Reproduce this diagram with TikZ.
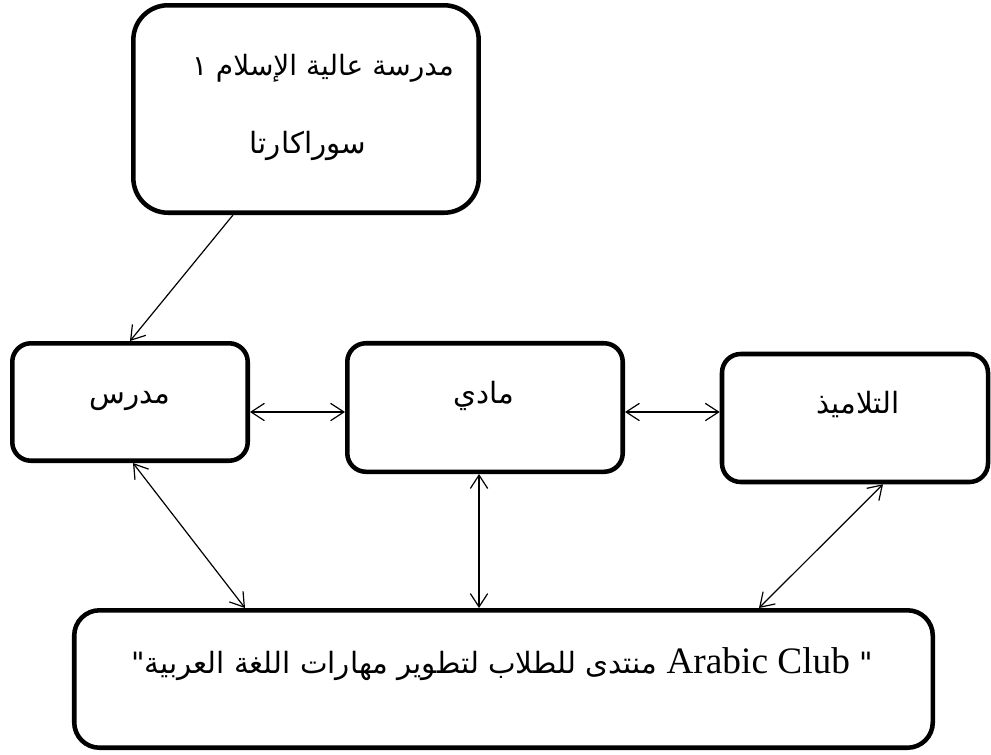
\documentclass[tikz,border=0pt]{standalone}
\usepackage{fontspec}
\setmainfont{Liberation Serif}
\newfontfamily\arabicfont[Script=Arabic]{DejaVu Sans}
\TeXXeTstate=1
\usetikzlibrary{arrows.meta,calc}
\tikzset{
  box/.style={draw, line width=3.4pt, rounded corners=14pt, inner sep=0pt},
  lbl/.style={inner sep=0pt, anchor=base, font=\arabicfont\fontsize{22}{28}\selectfont},
  tipb/.tip={Straight Barb[length=10pt,width=13pt]},
  link/.style={line width=0.9pt, tipb-tipb},
  onelink/.style={line width=0.9pt, -tipb},
}
\begin{document}
\begin{tikzpicture}[x=0.75pt,y=-0.75pt]
\useasboundingbox (0,0) rectangle (991,754);
% boxes
\node[box, rounded corners=26pt, minimum width=259pt, minimum height=155.6pt] (top) at (306,109) {};
\node[box, minimum width=176.6pt, minimum height=88.1pt] (teacher) at (130,402) {};
\node[box, minimum width=206.6pt, minimum height=96.4pt] (madi) at (485,407.5) {};
\node[box, minimum width=199.5pt, minimum height=96pt] (students) at (855,418) {};
\node[box, rounded corners=19pt, minimum width=643.9pt, minimum height=103.1pt] (bottom) at (503.5,679) {};
% texts
\node[lbl, font=\arabicfont\fontsize{21}{28}\selectfont] (topA) at (323,75) {\beginR مدرسة عالية الإسلام ١\endR};
\node[lbl] (topB) at (308,153) {\beginR سوراكارتا\endR};
\node[lbl] (teacherT) at (130,403) {\beginR مدرس\endR};
\node[lbl] (madiT) at (484,403) {\beginR مادي\endR};
\node[lbl] (studentsT) at (858,413) {\beginR التلاميذ\endR};
\node[lbl] (bottomT) at (502,673) {\beginR "\ \beginL{\fontspec{Liberation Serif}\fontsize{28}{34}\selectfont Arabic Club}\endL{} منتدى للطلاب لتطوير مهارات اللغة العربية"\endR};
% connectors
\coordinate (row) at (0,412);
\draw[onelink] ($(top.south)+(-73,0)$) -- (teacher.north);
\draw[link] (teacher.east |- row) -- (madi.west |- row);
\draw[link] (madi.east |- row) -- (students.west |- row);
\draw[link] ($(teacher.south)+(3,0)$) -- ($(bottom.north)+(-258.5,0)$);
\draw[link] ($(madi.south)+(-6,0)$) -- ($(bottom.north)+(-24.5,0)$);
\draw[link] ($(students.south)+(28,0)$) -- ($(bottom.north)+(255.5,0)$);
\end{tikzpicture}
\end{document}
